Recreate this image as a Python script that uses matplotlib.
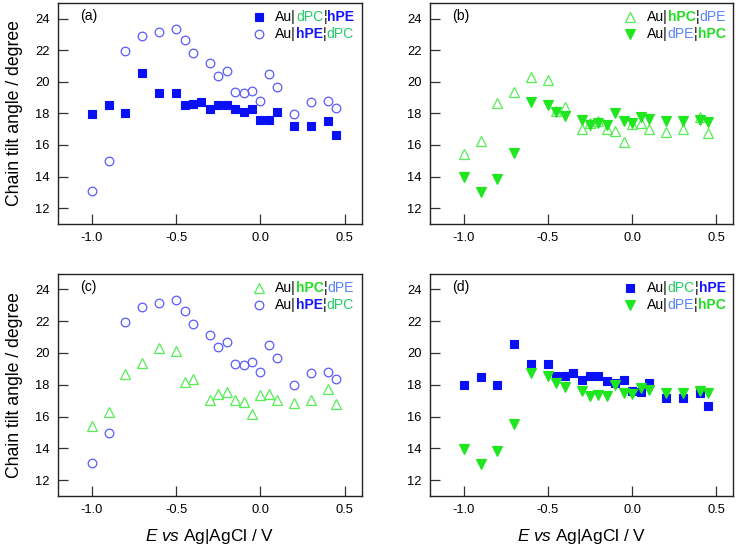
import matplotlib
matplotlib.use("Agg")
import matplotlib.pyplot as plt
from matplotlib.offsetbox import TextArea, HPacker, VPacker, DrawingArea, AnchoredOffsetbox
from matplotlib.lines import Line2D

plt.rcParams['font.family'] = ['Liberation Sans', 'DejaVu Sans']
plt.rcParams['axes.unicode_minus'] = False
plt.rcParams['mathtext.fontset'] = 'custom'
plt.rcParams['mathtext.rm'] = 'Liberation Sans'
plt.rcParams['mathtext.it'] = 'Liberation Sans:italic'

# ---- data ----
x_sq = [-1.0, -0.9, -0.8, -0.7, -0.6, -0.5, -0.45, -0.4, -0.35, -0.3, -0.25, -0.2,
        -0.15, -0.1, -0.05, 0.0, 0.05, 0.1, 0.2, 0.3, 0.4, 0.45]
y_dPC_hPE = [17.98, 18.5, 18.0, 20.55, 19.28, 19.3, 18.53, 18.58, 18.72, 18.28, 18.52, 18.55,
             18.25, 18.11, 18.29, 17.59, 17.55, 18.08, 17.17, 17.19, 17.51, 16.66]

x_oth = [-1.0, -0.9, -0.8, -0.7, -0.6, -0.5, -0.45, -0.4, -0.3, -0.25, -0.2,
         -0.15, -0.1, -0.05, 0.0, 0.05, 0.1, 0.2, 0.3, 0.4, 0.45]
y_hPE_dPC = [13.06, 14.96, 21.92, 22.87, 23.15, 23.36, 22.62, 21.8, 21.16, 20.38, 20.66,
             19.33, 19.27, 19.41, 18.8, 20.47, 19.67, 17.98, 18.72, 18.78, 18.34]
y_hPC_dPE = [15.4, 16.28, 18.67, 19.36, 20.31, 20.14, 18.17, 18.38, 17.01, 17.41, 17.52,
             17.04, 16.91, 16.18, 17.35, 17.41, 17.01, 16.85, 17.04, 17.75, 16.78]
y_dPE_hPC = [13.97, 13.0, 13.82, 15.51, 18.72, 18.52, 18.08, 17.83, 17.6, 17.27, 17.37,
             17.29, 18.0, 17.49, 17.39, 17.77, 17.64, 17.49, 17.49, 17.6, 17.45]

panel_labels = ['(a)', '(b)', '(c)', '(d)']
xticks = [-1.0, -0.5, 0.0, 0.5]
yticks = [12, 14, 16, 18, 20, 22, 24]

# ---- styles ----
C_SQ = '#0a10f5'
C_CI = '#5a5aff'
C_UT = '#55ee55'
C_DT = '#1fe61f'
T_dPC = '#22cc66'
T_hPE = '#1414ff'
T_hPC = '#22dd22'
T_dPE = '#5a82ff'

styles = {
    'dPC_hPE': dict(marker='s', ls='none', ms=6, mfc=C_SQ, mec=C_SQ, mew=0.8),
    'hPE_dPC': dict(marker='o', ls='none', ms=6.2, mfc='none', mec=C_CI, mew=0.9),
    'hPC_dPE': dict(marker='^', ls='none', ms=7, mfc='none', mec=C_UT, mew=0.9),
    'dPE_hPC': dict(marker='v', ls='none', ms=7, mfc=C_DT, mec=C_DT, mew=0.8),
}
series = {
    'dPC_hPE': (x_sq, y_dPC_hPE),
    'hPE_dPC': (x_oth, y_hPE_dPC),
    'hPC_dPE': (x_oth, y_hPC_dPE),
    'dPE_hPC': (x_oth, y_dPE_hPC),
}
legend_text = {
    'dPC_hPE': [('Au|', 'black', 'normal'), ('dPC', T_dPC, 'normal'), ('\u00a6', 'black', 'normal'), ('hPE', T_hPE, 'bold')],
    'hPE_dPC': [('Au|', 'black', 'normal'), ('hPE', T_hPE, 'bold'), ('\u00a6', 'black', 'normal'), ('dPC', T_dPC, 'normal')],
    'hPC_dPE': [('Au|', 'black', 'normal'), ('hPC', T_hPC, 'bold'), ('\u00a6', 'black', 'normal'), ('dPE', T_dPE, 'normal')],
    'dPE_hPC': [('Au|', 'black', 'normal'), ('dPE', T_dPE, 'normal'), ('\u00a6', 'black', 'normal'), ('hPC', T_hPC, 'bold')],
}
panels = [['dPC_hPE', 'hPE_dPC'], ['hPC_dPE', 'dPE_hPC'], ['hPC_dPE', 'hPE_dPC'], ['dPC_hPE', 'dPE_hPC']]

FS = 9.3
LFS = 10.1
fig = plt.figure(figsize=(7.36, 5.48), dpi=100)
W, H = 736, 548
boxes = [(58, 2.7, 361.7, 224), (430, 2.7, 733.3, 224),
         (58, 273.5, 361.7, 496), (430, 273.5, 733.3, 496)]

for i, (l, t, r, b) in enumerate(boxes):
    ax = fig.add_axes([l / W, 1 - b / H, (r - l) / W, (b - t) / H])
    for key in panels[i]:
        xs, ys = series[key]
        ax.plot(xs, ys, **styles[key])
    ax.set_xlim(-1.2, 0.6)
    ax.set_ylim(11, 25)
    ax.set_xticks(xticks)
    ax.set_xticklabels(['%.1f' % v for v in xticks])
    ax.set_yticks(yticks)
    ax.tick_params(direction='in', length=7, width=0.9, labelsize=FS, pad=6,
                   top=False, right=False, color='#333333')
    for s in ax.spines.values():
        s.set_linewidth(1.0)
        s.set_color('#222222')
    ax.text(0.072, 0.97, panel_labels[i], transform=ax.transAxes, va='top', ha='left', fontsize=LFS)
    if i in (0, 2):
        ax.set_ylabel('Chain tilt angle / degree', fontsize=12.7, labelpad=9)
    if i in (2, 3):
        ax.set_xlabel(r'$\mathit{E}$ $\mathit{vs}$ Ag|AgCl / V', fontsize=12.4, labelpad=8)

    rows = []
    for key in panels[i]:
        da = DrawingArea(12, 8, 0, 0)
        st = dict(styles[key])
        da.add_artist(Line2D([6], [4], **st))
        parts = [TextArea(s, textprops=dict(color=c, fontweight=w, fontsize=LFS)) for s, c, w in legend_text[key]]
        txt = HPacker(children=parts, align='baseline', pad=0, sep=0)
        rows.append(HPacker(children=[da, txt], align='center', pad=0, sep=6))
    vp = VPacker(children=rows, align='left', pad=0, sep=2)
    ab = AnchoredOffsetbox(loc='upper right', child=vp, pad=0, borderpad=0.55, frameon=False,
                           bbox_to_anchor=(1, 1), bbox_transform=ax.transAxes)
    ax.add_artist(ab)

fig.savefig('out.png', dpi=100)
